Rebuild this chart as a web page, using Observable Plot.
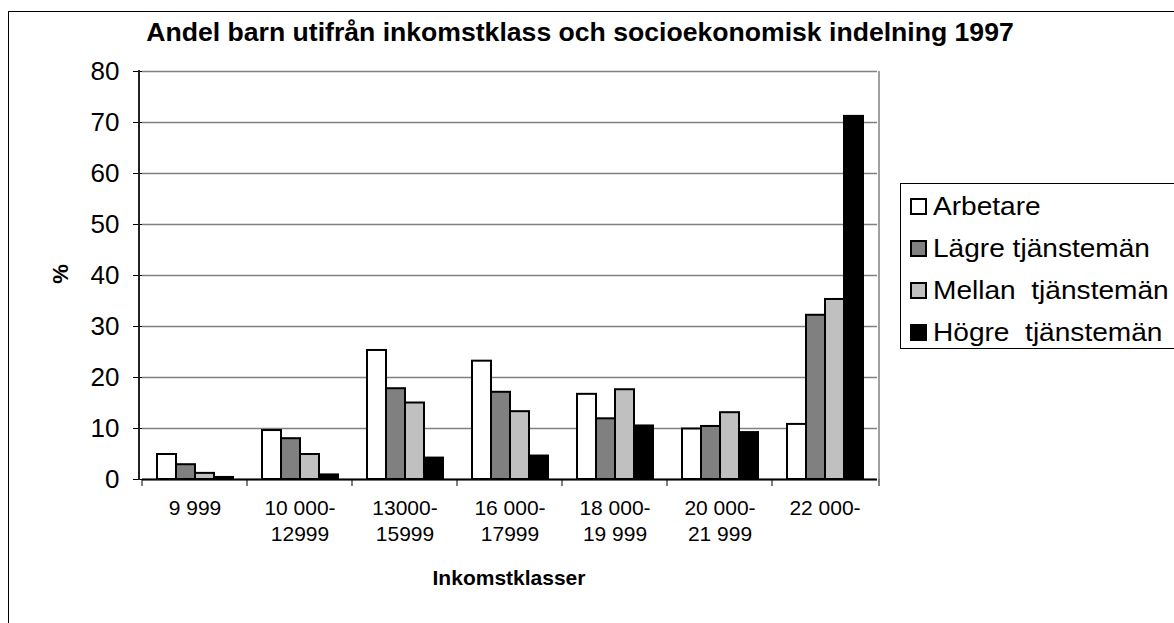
<!DOCTYPE html>
<html><head><meta charset="utf-8">
<script src="https://cdn.jsdelivr.net/npm/d3@7"></script>
<script src="https://cdn.jsdelivr.net/npm/@observablehq/plot@0.6"></script>
<style>
body{margin:0;width:1174px;height:623px;overflow:hidden;background:#fff;position:relative;font-family:"Liberation Sans",Arial,sans-serif;color:#000}
#frame{position:absolute;left:8px;top:11px;width:1300px;height:800px;border-left:1px solid #000;border-top:1px solid #000;box-sizing:border-box}
#chart{position:absolute;left:0;top:0}
#title{position:absolute;left:580px;top:42px;font-weight:bold;font-size:26.6px;white-space:nowrap;transform:translate(-50%,-80%)}
#xlabel{position:absolute;left:509px;top:578px;font-weight:bold;font-size:21px;white-space:nowrap;transform:translate(-50%,-50%)}
#ylabel{position:absolute;left:61px;top:274px;font-weight:bold;font-size:22px;white-space:nowrap;transform:translate(-50%,-50%) rotate(-90deg)}
#legend{position:absolute;left:900px;top:183px;width:400px;height:166px;border:1px solid #000;box-sizing:border-box;background:#fff}
.row{position:absolute;left:9px;height:30px;display:flex;align-items:center;font-size:26px;white-space:pre}
.row span{display:inline-block;transform:scaleX(1.08);transform-origin:left center}
.sw{width:17px;height:17px;border:2px solid #000;box-sizing:border-box;margin-right:6px}
</style></head>
<body>
<div id="frame"></div>
<div id="chart"></div>
<div id="title"></div>
<div id="xlabel"></div>
<div id="ylabel"></div>
<div id="legend"></div>
<script>
const titleText = "Andel barn utifrån inkomstklass och socioekonomisk indelning 1997";
const xLabel = "Inkomstklasser";
const yLabel = "%";
const categories = ["9 999", "10 000-\n12999", "13000-\n15999", "16 000-\n17999", "18 000-\n19 999", "20 000-\n21 999", "22 000-"];
const series = ["Arbetare", "Lägre tjänstemän", "Mellan  tjänstemän", "Högre  tjänstemän"];
const arbetare = [4.9, 9.6, 25.3, 23.2, 16.7, 9.9, 10.8];
const lagre    = [2.9, 8.0, 17.8, 17.1, 11.9, 10.4, 32.2];
const mellan   = [1.2, 4.9, 15.0, 13.3, 17.6, 13.1, 35.3];
const hogre    = [0.4, 0.9, 4.2, 4.6, 10.5, 9.2, 71.2];
const colors = ["#ffffff", "#808080", "#c0c0c0", "#000000"];
const yTicks = [0, 10, 20, 30, 40, 50, 60, 70, 80];

const values = [arbetare, lagre, mellan, hogre];
const data = [];
categories.forEach((c, i) => series.forEach((s, j) => data.push({cat: c, series: s, value: values[j][i]})));

const W = 1174, H = 623;
const mL = 139, mR = 295, mT = 71, mB = 144;

const plot = Plot.plot({
  width: W, height: H,
  marginLeft: mL, marginRight: mR, marginTop: mT, marginBottom: mB,
  style: {fontFamily: "'Liberation Sans', Arial, sans-serif", color: "#000", background: "transparent"},
  fx: {domain: categories, padding: 0, label: null},
  x: {domain: series, paddingInner: 0, paddingOuter: 0.7, axis: null},
  y: {domain: [0, 80], label: null},
  color: {domain: series, range: colors},
  marks: [
    Plot.gridY(yTicks, {stroke: "#808080", strokeOpacity: 1, strokeWidth: 1.5}),
    Plot.barY(data, {fx: "cat", x: "series", y: "value", fill: "series", stroke: "#000", strokeWidth: 2}),
    Plot.ruleY([0], {stroke: "#000", strokeWidth: 2}),
    Plot.axisY(yTicks, {tickSize: 9, tickPadding: 14, fontSize: 26, label: null, stroke: "#000"}),
    Plot.axisFx({anchor: "bottom", tickSize: 0, tickPadding: 17, fontSize: 21, lineHeight: 1.24, label: null})
  ]
});
document.getElementById("chart").appendChild(plot);

// structural lines from the plot's own scales
const svg = d3.select(plot);
const y = plot.scale("y"), fx = plot.scale("fx");
const x0 = mL, x1 = W - mR, yb = y.apply(0), yt = y.apply(80);
svg.append("line").attr("x1", x1).attr("x2", x1).attr("y1", yt).attr("y2", yb).attr("stroke", "#808080").attr("stroke-width", 1.5);
svg.append("line").attr("x1", x0).attr("x2", x0).attr("y1", yt - 1).attr("y2", yb + 1).attr("stroke", "#222").attr("stroke-width", 2);
const edges = categories.map(c => fx.apply(c)).concat([x1]);
edges.forEach(e => svg.append("line").attr("x1", e).attr("x2", e).attr("y1", yb).attr("y2", yb + 7).attr("stroke", "#000").attr("stroke-width", 1));

document.getElementById("title").textContent = titleText;
document.getElementById("xlabel").textContent = xLabel;
document.getElementById("ylabel").textContent = yLabel;
const lg = document.getElementById("legend");
series.forEach((s, i) => {
  const r = document.createElement("div");
  r.className = "row";
  r.style.top = (7 + i * 42.3) + "px";
  const sw = document.createElement("div");
  sw.className = "sw";
  sw.style.background = colors[i];
  const t = document.createElement("span");
  t.textContent = s;
  r.appendChild(sw); r.appendChild(t);
  lg.appendChild(r);
});
</script>
</body></html>
